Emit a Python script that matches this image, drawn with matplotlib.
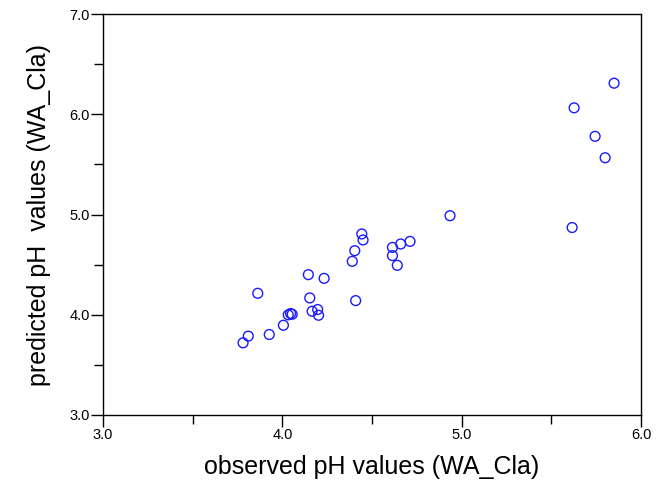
import matplotlib
matplotlib.use("Agg")
import matplotlib.pyplot as plt
from matplotlib.ticker import MultipleLocator, FormatStrFormatter

plt.rcParams['font.family'] = ['Liberation Sans', 'DejaVu Sans']

observed = [3.781, 3.810, 3.927, 4.006, 4.033, 4.046, 4.055, 4.166, 4.197, 4.202,
            4.153, 3.863, 4.145, 4.233, 4.409, 4.390, 4.404, 4.443, 4.450, 4.614,
            4.660, 4.712, 4.614, 4.641, 4.935, 5.616, 5.627, 5.744, 5.800, 5.850]
predicted = [3.720, 3.787, 3.803, 3.895, 3.999, 4.012, 4.005, 4.035, 4.052, 3.995,
             4.168, 4.214, 4.400, 4.363, 4.141, 4.533, 4.639, 4.806, 4.746, 4.672,
             4.706, 4.732, 4.590, 4.493, 4.988, 4.870, 6.064, 5.780, 5.566, 6.310]

fig = plt.figure(figsize=(6.57, 4.84), dpi=100)
ax = fig.add_axes([103/657, 1-415/484, (641-103)/657, (415-14)/484])

ax.scatter(observed, predicted, s=50, facecolors='none', edgecolors='#1a1aff', linewidths=1.0, zorder=3)

ax.set_xlim(3.0, 6.0)
ax.set_ylim(3.0, 7.0)
ax.xaxis.set_major_locator(MultipleLocator(1.0))
ax.xaxis.set_minor_locator(MultipleLocator(0.5))
ax.yaxis.set_major_locator(MultipleLocator(1.0))
ax.yaxis.set_minor_locator(MultipleLocator(0.5))
ax.xaxis.set_major_formatter(FormatStrFormatter('%.1f'))
ax.yaxis.set_major_formatter(FormatStrFormatter('%.1f'))
ax.tick_params(which='both', direction='out', top=False, right=False, width=1.0, labelsize=10.5, pad=1)
ax.tick_params(which='major', length=8.5)
ax.tick_params(which='minor', length=6.5)
for s in ax.spines.values():
    s.set_linewidth(1.0)

ax.set_xlabel('observed pH values (WA_Cla)', fontsize=18, labelpad=9)
ax.set_ylabel('predicted pH  values (WA_Cla)', fontsize=18, labelpad=13)

fig.savefig('out.png', dpi=100)
